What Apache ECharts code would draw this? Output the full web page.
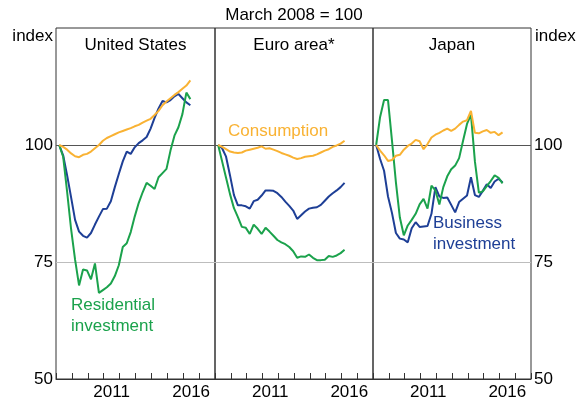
<!DOCTYPE html>
<html>
<head>
<meta charset="utf-8">
<script src="https://cdn.jsdelivr.net/npm/echarts@6/dist/echarts.min.js"></script>
<style>
  html, body { margin: 0; padding: 0; background: #fff; }
  #chart { width: 577px; height: 402px; }
</style>
</head>
<body>
<div id="chart"></div>
<script>
// quarterly observations, first one is March 2008 (decimal years)
const firstQuarter = 2008.2
const yearCats = ['2008', '2009', '2010', '2011', '2012', '2013', '2014', '2015', '2016', '2017']
const yTicks = [50, 75, 100, 125]

const usConsumption = [100, 99.6, 99.0, 98.2, 97.6, 97.4, 97.9, 98.1, 98.6, 99.3, 100.0, 100.9, 101.5, 101.9, 102.3, 102.7, 103.0, 103.3, 103.6, 104.0, 104.3, 104.8, 105.2, 105.6, 106.4, 107.3, 108.5, 109.3, 110.0, 110.7, 111.3, 112.0, 112.7, 113.8]
const usBusiness = [100, 97.8, 93.5, 88.8, 84.0, 81.5, 80.6, 80.2, 81.2, 83.0, 84.7, 86.3, 86.4, 88.0, 91.0, 93.8, 96.5, 98.6, 98.1, 99.5, 100.4, 101.0, 101.7, 103.5, 105.8, 107.8, 109.4, 109.1, 109.6, 110.4, 110.9, 110.0, 109.1, 108.5]
const usResidential = [100, 97.5, 90, 82, 75.5, 70, 73.4, 73.2, 71.3, 74.7, 68.4, 69.0, 69.6, 70.4, 72.0, 74.3, 78.2, 79.0, 81.4, 84.7, 87.6, 89.9, 91.9, 91.3, 90.6, 93.1, 94.0, 94.9, 98.8, 102.0, 103.8, 106.6, 111.2, 109.8]

const euConsumption = [100, 99.6, 99.1, 98.6, 98.4, 98.3, 98.4, 98.8, 99.0, 99.2, 99.4, 99.7, 99.2, 99.3, 99.0, 98.7, 98.3, 98.0, 97.7, 97.3, 97.0, 97.2, 97.5, 97.6, 97.7, 98.0, 98.4, 98.8, 99.1, 99.6, 99.9, 100.3, 100.9]
const euBusiness = [100, 99.3, 97.5, 93.5, 89.3, 87.1, 87.1, 86.9, 86.4, 88.0, 88.3, 89.2, 90.3, 90.3, 90.2, 89.7, 88.9, 87.9, 87.0, 86.0, 84.2, 85.0, 85.8, 86.4, 86.6, 86.7, 87.2, 88.1, 89.0, 89.7, 90.3, 91.0, 91.9]
const euResidential = [100, 96.5, 93, 89.5, 86.5, 84.6, 82.5, 82.3, 81.0, 83.0, 82.1, 81.0, 82.3, 81.5, 80.6, 79.7, 79.2, 78.8, 78.2, 77.3, 75.9, 76.2, 76.1, 76.6, 75.9, 75.4, 75.4, 75.5, 76.3, 76.1, 76.4, 76.9, 77.6]

const jpConsumption = [100, 98.8, 97.8, 96.6, 96.8, 97.7, 97.9, 99.0, 99.8, 100.3, 101.1, 100.8, 99.1, 100.2, 101.6, 102.2, 102.6, 103.1, 103.5, 103.0, 103.5, 104.3, 105.0, 105.3, 107.3, 102.6, 102.5, 102.9, 103.2, 102.6, 102.8, 102.1, 102.7]
const jpBusiness = [100, 97, 94.5, 89, 85.5, 81.2, 80.0, 79.8, 79.2, 82.2, 83.5, 82.5, 82.6, 82.7, 85.3, 91.0, 89.0, 88.7, 88.8, 87.2, 85.6, 87.8, 88.5, 89.2, 93.1, 89.3, 88.9, 90.2, 91.6, 90.8, 92.2, 92.8, 92.0]
const jpResidential = [100, 106, 109.6, 109.6, 101, 92, 84.5, 80.7, 82.8, 84.0, 85.3, 87.3, 88.5, 86.4, 91.3, 90.3, 87.3, 91.0, 93.3, 94.8, 95.6, 97.2, 100.9, 104.5, 106.5, 96.5, 89.8, 90.1, 91.2, 92.3, 93.5, 93.0, 91.8]

const panels = [
  { name: 'United States', cons: usConsumption, bus: usBusiness, res: usResidential },
  { name: 'Euro area*', cons: euConsumption, bus: euBusiness, res: euResidential },
  { name: 'Japan', cons: jpConsumption, bus: jpBusiness, res: jpResidential }
]

const colors = { cons: '#f9b233', bus: '#1e3f96', res: '#1ba24c' }
const gridLeft = [56, 215, 373]
const gridWidth = [159, 158, 158]
const fontFamily = 'Liberation Sans, Arial, sans-serif'

function toPoints(values) {
  return values.map((v, i) => [firstQuarter + 0.25 * i, v])
}

const chart = echarts.init(document.getElementById('chart'), null, { renderer: 'canvas' })

const grids = []
const xAxes = []
const yAxes = []
const series = []
const titles = [
  { text: 'March 2008 = 100', left: 294, top: 5, textAlign: 'center' },
  { text: 'index', left: 53, top: 26, textAlign: 'right' },
  { text: 'index', left: 535, top: 26, textAlign: 'left' },
  { text: 'Consumption', left: 228, top: 121, textAlign: 'left', color: colors.cons },
  { text: 'Residential\ninvestment', left: 71, top: 295, textAlign: 'left', color: colors.res },
  { text: 'Business\ninvestment', left: 433, top: 213, textAlign: 'left', color: colors.bus }
]

panels.forEach((p, k) => {
  grids.push({
    left: gridLeft[k], width: gridWidth[k], top: 28, height: 351,
    show: true, borderColor: '#333', borderWidth: 1, backgroundColor: 'transparent'
  })
  titles.push({ text: p.name, left: gridLeft[k] + gridWidth[k] / 2, top: 35, textAlign: 'center' })

  // hidden value axis for the data
  xAxes.push({ type: 'value', gridIndex: k, min: 2008, max: 2018, show: false })
  // category axis only for the year ticks and labels
  xAxes.push({
    type: 'category', gridIndex: k, data: yearCats, boundaryGap: true, position: 'bottom',
    axisLine: { show: true, onZero: false, lineStyle: { color: '#333', width: 1 } },
    axisTick: { show: true, interval: 0, inside: true, length: 6, lineStyle: { color: '#333', width: 1 } },
    axisLabel: {
      interval: (idx, val) => val === '2011' || val === '2016',
      margin: 5, fontSize: 17, color: '#000', fontFamily
    },
    splitLine: { show: false }
  })

  yAxes.push({
    type: 'value', gridIndex: k, min: yTicks[0], max: yTicks[yTicks.length - 1], interval: 25,
    position: k === 2 ? 'right' : 'left',
    axisLine: { show: false },
    axisTick: { show: false },
    axisLabel: {
      show: k !== 1, showMaxLabel: false, margin: 3, fontSize: 17, color: '#000', fontFamily
    },
    splitLine: {
      show: true,
      lineStyle: { color: ['rgba(0,0,0,0)', '#bdbdbd', '#555', 'rgba(0,0,0,0)'], width: 1 }
    }
  })

  const base = { type: 'line', xAxisIndex: 2 * k, yAxisIndex: k, symbol: 'none', smooth: false }
  series.push(Object.assign({}, base, { name: 'Business investment', data: toPoints(p.bus), lineStyle: { color: colors.bus, width: 2 } }))
  series.push(Object.assign({}, base, { name: 'Residential investment', data: toPoints(p.res), lineStyle: { color: colors.res, width: 2 } }))
  series.push(Object.assign({}, base, { name: 'Consumption', data: toPoints(p.cons), lineStyle: { color: colors.cons, width: 2 } }))
})

chart.setOption({
  animation: false,
  backgroundColor: '#fff',
  title: titles.map(t => ({
    text: t.text, left: t.left, top: t.top, textAlign: t.textAlign, padding: 0,
    textStyle: {
      fontSize: 17, fontWeight: 'normal', fontFamily, color: t.color || '#000',
      lineHeight: 21
    }
  })),
  grid: grids,
  xAxis: xAxes,
  yAxis: yAxes,
  series: series
})
</script>
</body>
</html>
